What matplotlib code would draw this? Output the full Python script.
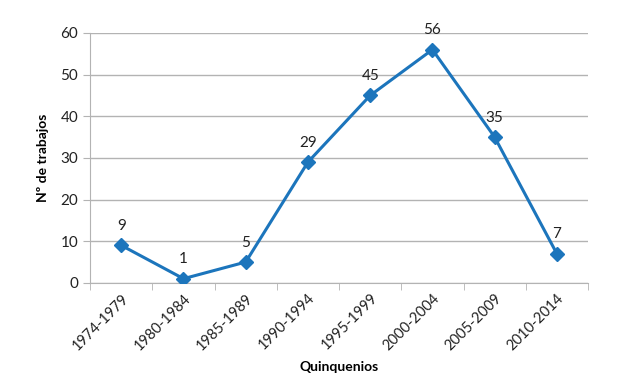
import numpy as np
import matplotlib.pyplot as plt

plt.rcParams['font.family'] = ['Lato', 'DejaVu Sans']

periodos = ['1974-1979', '1980-1984', '1985-1989', '1990-1994',
            '1995-1999', '2000-2004', '2005-2009', '2010-2014']
trabajos = [9, 1, 5, 29, 45, 56, 35, 7]

azul = '#1c75bc'
gris = '#b3b3b3'

fig = plt.figure(figsize=(6.44, 3.88), dpi=100)
ax = fig.add_axes([0.140, 0.271, 0.773, 0.644])

x = np.arange(len(periodos))
ax.plot(x, trabajos, color=azul, lw=2.2, marker='D', ms=7, zorder=3)
for xi, v in zip(x, trabajos):
    ax.annotate(str(v), (xi, v), xytext=(0, 9), textcoords='offset points',
                ha='center', va='bottom', fontsize=11, color='#222222')

ax.set_xlim(-0.5, len(periodos) - 0.5)
ax.set_ylim(0, 60)
ax.set_yticks(range(0, 61, 10))
ax.yaxis.grid(True, color=gris, lw=1)
ax.set_axisbelow(True)

ax.set_xticks(x)
ax.set_xticklabels(periodos, rotation=45, ha='right', rotation_mode='anchor',
                   fontsize=10.5, color='#222222')
ax.set_xticks(np.arange(-0.5, len(periodos)), minor=True)
ax.tick_params(axis='x', which='major', length=0, pad=6)
ax.tick_params(axis='x', which='minor', length=5, color=gris)
ax.tick_params(axis='y', length=5, color=gris, labelsize=11, labelcolor='#222222')

for s in ['top', 'right']:
    ax.spines[s].set_visible(False)
for s in ['left', 'bottom']:
    ax.spines[s].set_color(gris)

ax.set_ylabel('Nº de trabajos', fontsize=10, fontweight='bold', labelpad=8)
ax.set_xlabel('Quinquenios', fontsize=10, fontweight='bold', labelpad=6)

fig.savefig('out.png', dpi=100)
